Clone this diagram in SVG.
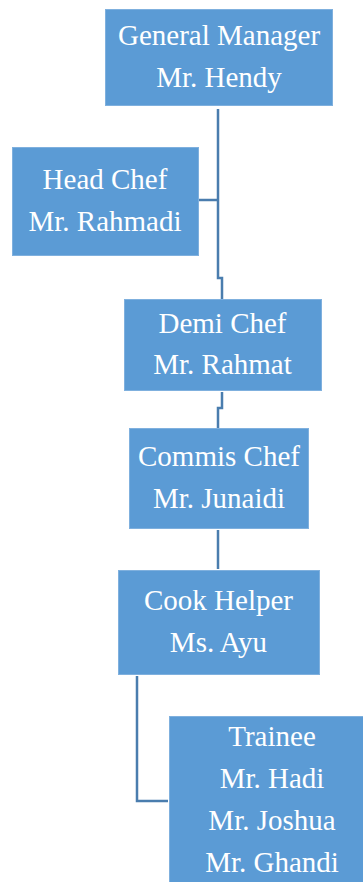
<svg xmlns="http://www.w3.org/2000/svg" width="363" height="882" viewBox="0 0 363 882">
<style>
.box{fill:#5B9BD5;stroke:#7FB0DE;stroke-width:1}
.t{font-family:'Liberation Serif','Times New Roman',Tinos,'DejaVu Serif',serif;font-size:29px;fill:#FFFFFF;text-anchor:middle}
.c{fill:none;stroke:#4A7DAE;stroke-width:2.5}
</style>
<rect width="363" height="882" fill="#FFFFFF"/>
<g id="connectors">
<polyline class="c" points="218,109 218,278 222,278 222,299"/>
<line class="c" x1="199" y1="200" x2="218" y2="200"/>
<polyline class="c" points="222,392 222,408 218,408 218,428"/>
<line class="c" x1="218" y1="530" x2="218" y2="569"/>
<polyline class="c" points="137,676 137,801 168,801"/>
</g>
<g id="general-manager">
<rect class="box" x="105.5" y="9.5" width="227" height="96"/>
<text class="t" x="219" y="45" font-family="Liberation Serif">General Manager</text>
<text class="t" x="219" y="87" font-family="Liberation Serif">Mr. Hendy</text>
</g>
<g id="head-chef">
<rect class="box" x="12.5" y="147.5" width="186" height="108"/>
<text class="t" x="105" y="189">Head Chef</text>
<text class="t" x="105" y="231">Mr. Rahmadi</text>
</g>
<g id="demi-chef">
<rect class="box" x="124.5" y="299.5" width="197" height="91"/>
<text class="t" x="222.5" y="333">Demi Chef</text>
<text class="t" x="222.5" y="374">Mr. Rahmat</text>
</g>
<g id="commis-chef">
<rect class="box" x="129.5" y="428.5" width="179" height="100"/>
<text class="t" x="219" y="466">Commis Chef</text>
<text class="t" x="219" y="508">Mr. Junaidi</text>
</g>
<g id="cook-helper">
<rect class="box" x="118.5" y="570.5" width="201" height="104"/>
<text class="t" x="218.5" y="610">Cook Helper</text>
<text class="t" x="218.5" y="652">Ms. Ayu</text>
</g>
<g id="trainee">
<rect class="box" x="169.5" y="716.5" width="200" height="170"/>
<text class="t" x="272" y="746">Trainee</text>
<text class="t" x="272" y="788">Mr. Hadi</text>
<text class="t" x="272" y="830">Mr. Joshua</text>
<text class="t" x="272" y="872">Mr. Ghandi</text>
</g>
</svg>
